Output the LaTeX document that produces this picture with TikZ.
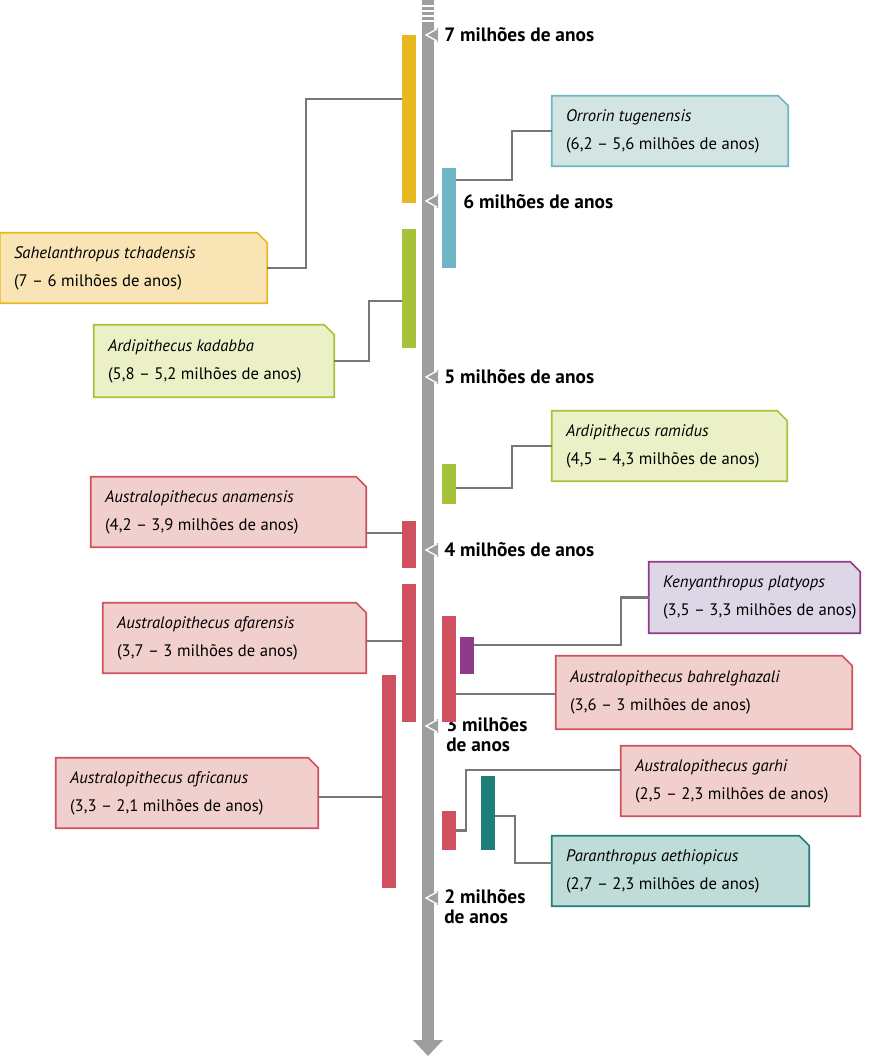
\documentclass[tikz,border=0pt]{standalone}
\usepackage{fontspec}
\setmainfont{PT Sans}
\usetikzlibrary{fit}
\definecolor{axg}{HTML}{9E9E9E}
\definecolor{cng}{HTML}{777777}
\definecolor{yel}{HTML}{E8B820}\definecolor{yelf}{HTML}{F8E4B4}
\definecolor{blu}{HTML}{6FB5C3}\definecolor{bluf}{HTML}{D3E5E3}
\definecolor{grn}{HTML}{A6C23A}\definecolor{grnf}{HTML}{ECF0C7}
\definecolor{red}{HTML}{CF5160}\definecolor{redf}{HTML}{F0CFCD}
\definecolor{pur}{HTML}{903A8A}\definecolor{purf}{HTML}{DDD6E6}
\definecolor{tea}{HTML}{1F7F78}\definecolor{teaf}{HTML}{BFDCD9}
\newcommand\tlbar[6]{\node[fit={(#2,#3)(#4,#5)},inner sep=0,fill=#6] (#1) {};}
\newcommand\spbox[8]{% name x1 y1 x2 y2 fill border text
  \node[fit={(#2,#3)(#4,#5)},inner sep=0] (#1) {};
  \draw[#7,fill=#6,line width=1.2pt] (#1.south west) -- (#1.north west) -- ([xshift=-7.5pt]#1.north east) -- ([yshift=-7.5pt]#1.north east) -- (#1.south east) -- cycle;
  \node[anchor=west,align=left,font=\fontsize{12.5}{21}\selectfont,inner sep=0] at ([xshift=10.5pt]#1.west) {#8};}
\begin{document}
\begin{tikzpicture}[x=0.75pt,y=-0.75pt,
  conn/.style={draw=cng,line width=2.2pt},
  tlab/.style={anchor=west,font=\bfseries\fontsize{14.5}{15}\selectfont,align=left,inner sep=0}]
\useasboundingbox (0,0) rectangle (888,1056);
% axis
\fill[axg] (422,0) rectangle (434,5);
\foreach \y in {7,12,17}{\fill[axg] (422,\y) rectangle (434,\y+3);}
\fill[axg] (422,22) rectangle (434,1040);
\fill[axg] (413,1040) -- (428,1056) -- (443,1040) -- cycle;
\foreach \y/\t in {35/7 milhões de anos,201/6 milhões de anos,377/5 milhões de anos,550/4 milhões de anos}{
  \fill[axg] (438,\y-7) -- (423,\y) -- (438,\y+7) -- cycle;
  \draw[white,line width=1pt] (437,\y-6) -- (426,\y) -- (437,\y+6);
}
\foreach \y in {726,898}{
  \fill[axg] (438,\y-7) -- (423,\y) -- (438,\y+7) -- cycle;
  \draw[white,line width=1pt] (437,\y-6) -- (426,\y) -- (437,\y+6);
}
\node[tlab] (l7) at (444,35) {7 milhões de anos};
\node[tlab] (l6) at (463,202) {6 milhões de anos};
\node[tlab] (l5) at (444,377) {5 milhões de anos};
\node[tlab] (l4) at (444,550) {4 milhões de anos};
\node[tlab,anchor=north west] (l3) at (446,717) {3 milhões\\de anos};
\node[tlab,anchor=north west] (l2) at (444,889) {2 milhões\\de anos};
% bars
\tlbar{byel}{402}{35}{416}{203}{yel}
\tlbar{bblu}{442}{168}{456}{268}{blu}
\tlbar{bkad}{402}{229}{416}{348}{grn}
\tlbar{bram}{442}{464}{456}{504}{grn}
\tlbar{bana}{402}{521}{416}{568}{red}
\tlbar{bafa}{402}{584}{416}{722}{red}
\tlbar{bafr}{382}{675}{396}{888}{red}
\tlbar{bbah}{442}{616}{456}{722}{red}
\tlbar{bken}{460}{637}{474}{674}{pur}
\tlbar{bgar}{442}{811}{456}{850}{red}
\tlbar{bpar}{481}{776}{495}{850}{tea}
% boxes
\spbox{sah}{0}{233}{267}{303}{yelf}{yel}{\textit{Sahelanthropus tchadensis}\\(7 – 6 milhões de anos)}
\spbox{orr}{552}{96}{788}{166}{bluf}{blu}{\textit{Orrorin tugenensis}\\(6,2 – 5,6 milhões de anos)}
\spbox{kad}{94}{325}{334}{397}{grnf}{grn}{\textit{Ardipithecus kadabba}\\(5,8 – 5,2 milhões de anos)}
\spbox{ram}{552}{411}{787}{481}{grnf}{grn}{\textit{Ardipithecus ramidus}\\(4,5 – 4,3 milhões de anos)}
\spbox{ana}{91}{477}{366}{547}{redf}{red}{\textit{Australopithecus anamensis}\\(4,2 – 3,9 milhões de anos)}
\spbox{afa}{103}{603}{366}{673}{redf}{red}{\textit{Australopithecus afarensis}\\(3,7 – 3 milhões de anos)}
\spbox{afr}{56}{758}{318}{828}{redf}{red}{\textit{Australopithecus africanus}\\(3,3 – 2,1 milhões de anos)}
\spbox{ken}{649}{562}{860}{633}{purf}{pur}{\textit{Kenyanthropus platyops}\\(3,5 – 3,3 milhões de anos)}
\spbox{bah}{556}{656}{852}{729}{redf}{red}{\textit{Australopithecus bahrelghazali}\\(3,6 – 3 milhões de anos)}
\spbox{gar}{621}{746}{860}{816}{redf}{red}{\textit{Australopithecus garhi}\\(2,5 – 2,3 milhões de anos)}
\spbox{par}{552}{836}{809}{906}{teaf}{tea}{\textit{Paranthropus aethiopicus}\\(2,7 – 2,3 milhões de anos)}
% connectors
\draw[conn] (byel.west) ++(0,-20) -| (306,268) -- (sah.east);
\draw[conn] (bblu.east) ++(0,-38) -| (512,131) -- (orr.west);
\draw[conn] (bkad.west) ++(0,12.5) -| (369,361) -- (kad.east);
\draw[conn] (bram.east) ++(0,4) -| (512,446) -- (ram.west);
\draw[conn] (bana.west) ++(0,-11.5) coordinate (t1) -- (t1 -| ana.east);
\draw[conn] (bafa.west) ++(0,-12) coordinate (t2) -- (t2 -| afa.east);
\draw[conn] (bafr.west) ++(0,15.5) coordinate (t3) -- (t3 -| afr.east);
\draw[conn] (bken.east) ++(0,-10.5) -| (621,597.5) -- (ken.west);
\draw[conn] (bbah.east) ++(0,25) coordinate (t4) -- (t4 -| bah.west);
\draw[conn] (bgar.east) -| (466,770) coordinate (t5) -- (t5 -| gar.west);
\draw[conn] (bpar.east) ++(0,3) -| (515,863) coordinate (t6) -- (t6 -| par.west);
\end{tikzpicture}
\end{document}
